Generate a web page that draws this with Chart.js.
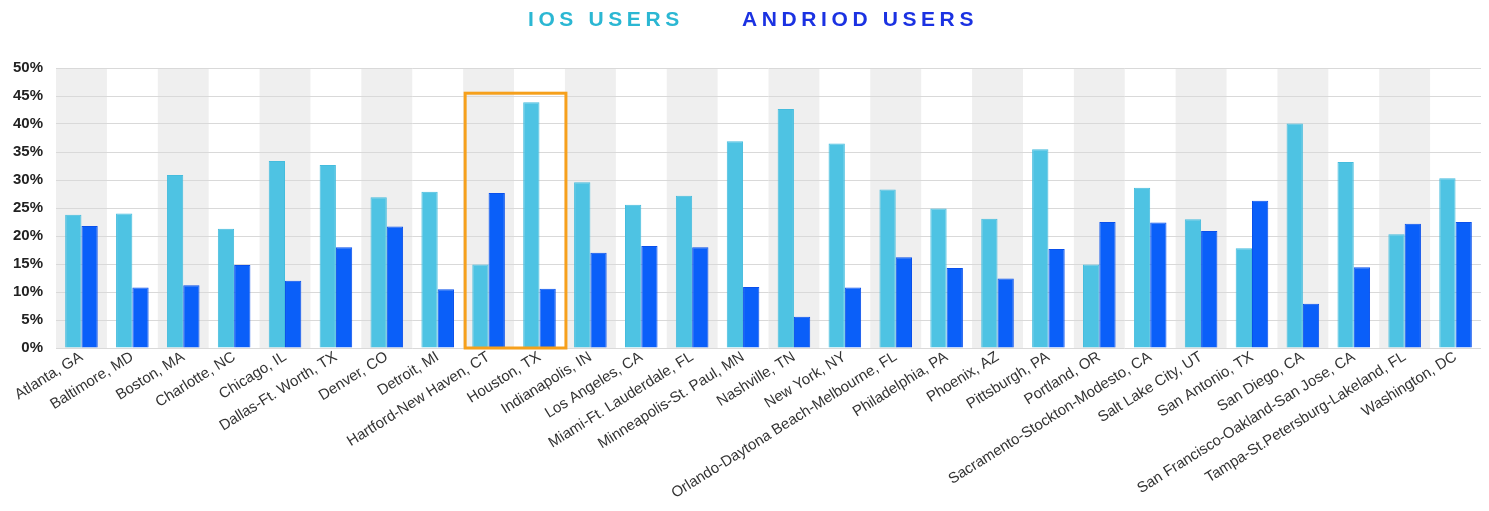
<!DOCTYPE html>
<html>
<head>
<meta charset="utf-8">
<script src="https://cdn.jsdelivr.net/npm/chart.js@4"></script>
<style>
  html, body { margin: 0; padding: 0; background: #fff; }
  #wrap { position: relative; width: 1489px; height: 511px; }
  #graph { position: absolute; left: 0; top: 0; }
  .key {
    position: absolute; top: 7px; line-height: 21px;
    font: bold 21px Arial, "Liberation Sans", sans-serif;
    letter-spacing: 4.6px; white-space: nowrap;
  }
  #key-ios { left: 528px; color: #2bb7d3; }
  #key-android { left: 742px; color: #1b32e2; }
</style>
</head>
<body>
<div id="wrap">
  <canvas id="graph" width="1489" height="511"></canvas>
  <div class="key" id="key-ios">IOS USERS</div>
  <div class="key" id="key-android">ANDRIOD USERS</div>
</div>
<script>
// -------------------------
// DATA
// -------------------------
const cities = [
  "Atlanta, GA", "Baltimore, MD", "Boston, MA", "Charlotte, NC", "Chicago, IL",
  "Dallas-Ft. Worth, TX", "Denver, CO", "Detroit, MI", "Hartford-New Haven, CT",
  "Houston, TX", "Indianapolis, IN", "Los Angeles, CA", "Miami-Ft. Lauderdale, FL",
  "Minneapolis-St. Paul, MN", "Nashville, TN", "New York, NY",
  "Orlando-Daytona Beach-Melbourne, FL", "Philadelphia, PA", "Phoenix, AZ",
  "Pittsburgh, PA", "Portland, OR", "Sacramento-Stockton-Modesto, CA",
  "Salt Lake City, UT", "San Antonio, TX", "San Diego, CA",
  "San Francisco-Oakland-San Jose, CA", "Tampa-St.Petersburg-Lakeland, FL",
  "Washington, DC"
];

const iosUsers = [
  23.8, 24.0, 30.9, 21.3, 33.4, 32.7, 26.9, 27.9, 14.9, 43.9,
  29.6, 25.6, 27.2, 36.9, 42.7, 36.5, 28.3, 24.9, 23.1, 35.5,
  14.9, 28.6, 23.0, 17.8, 40.1, 33.2, 20.3, 30.3
];

const androidUsers = [
  21.8, 10.8, 11.2, 14.8, 12.0, 18.0, 21.7, 10.5, 27.7, 10.6,
  17.0, 18.2, 18.0, 10.9, 5.6, 10.8, 16.2, 14.3, 12.4, 17.7,
  22.5, 22.4, 20.9, 26.3, 7.9, 14.4, 22.2, 22.5
];

const yTicks = [0, 5, 10, 15, 20, 25, 30, 35, 40, 45, 50];

// highlighted pair of cities and the top of the box (in %)
const boxCities = ["Hartford-New Haven, CT", "Houston, TX"];
const boxTop = 45.5;

// -------------------------
// PLUGINS
// -------------------------
const bandsPlugin = {
  id: "bands",
  beforeDraw(chart) {
    const { ctx, chartArea, scales } = chart;
    const x = scales.x;
    const w = (chartArea.right - chartArea.left) / cities.length;
    ctx.save();
    ctx.fillStyle = "#efefef";
    cities.forEach((c, i) => {
      if (i % 2 === 0) {
        const cx = x.getPixelForValue(i);
        ctx.fillRect(cx - w / 2, chartArea.top, w, chartArea.bottom - chartArea.top);
      }
    });
    ctx.restore();
  }
};

const boxPlugin = {
  id: "box",
  afterDatasetsDraw(chart) {
    const { ctx, chartArea, scales } = chart;
    const w = (chartArea.right - chartArea.left) / cities.length;
    const i0 = cities.indexOf(boxCities[0]);
    const i1 = cities.indexOf(boxCities[1]);
    const left = scales.x.getPixelForValue(i0) - w / 2 + 2;
    const right = scales.x.getPixelForValue(i1) + w / 2 + 1;
    const top = scales.y.getPixelForValue(boxTop);
    const bottom = scales.y.getPixelForValue(0);
    ctx.save();
    ctx.strokeStyle = "#f6a01c";
    ctx.lineWidth = 3;
    ctx.strokeRect(left, top, right - left, bottom - top);
    ctx.restore();
  }
};

// -------------------------
// CHART
// -------------------------
Chart.defaults.font.family = "Arial, 'Liberation Sans', sans-serif";

const ctx = document.getElementById("graph").getContext("2d");

new Chart(ctx, {
  type: "bar",
  data: {
    labels: cities,
    datasets: [{
      label: "IOS USERS",
      data: iosUsers,
      backgroundColor: "#4ec3e3",
      borderColor: "#45bcdd",
      borderWidth: 1,
      barPercentage: 1.0,
      categoryPercentage: 0.64
    }, {
      label: "ANDRIOD USERS",
      data: androidUsers,
      backgroundColor: "#0a5ff9",
      borderColor: "#0a50eb",
      borderWidth: 1,
      barPercentage: 1.0,
      categoryPercentage: 0.64
    }]
  },
  options: {
    responsive: false,
    animation: false,
    layout: { padding: { top: 68, right: 8, left: 0, bottom: 0 } },
    plugins: {
      legend: { display: false },
      tooltip: { enabled: false }
    },
    scales: {
      x: {
        grid: { display: false },
        border: { display: false },
        ticks: {
          color: "#333",
          font: { size: 15 },
          minRotation: 32,
          maxRotation: 32,
          autoSkip: false,
          padding: -8
        },
        afterFit: (s) => { s.height = 163; }
      },
      y: {
        min: 0,
        max: 50,
        afterBuildTicks: (s) => { s.ticks = yTicks.map(v => ({ value: v })); },
        grid: { color: "#d9d9d9", lineWidth: 1, drawTicks: false },
        border: { display: false },
        ticks: {
          color: "#222",
          font: { size: 15, weight: "bold" },
          padding: 13,
          callback: (v) => v + "%"
        },
        afterFit: (s) => { s.width = 56; }
      }
    }
  },
  plugins: [bandsPlugin, boxPlugin]
});
</script>
</body>
</html>
